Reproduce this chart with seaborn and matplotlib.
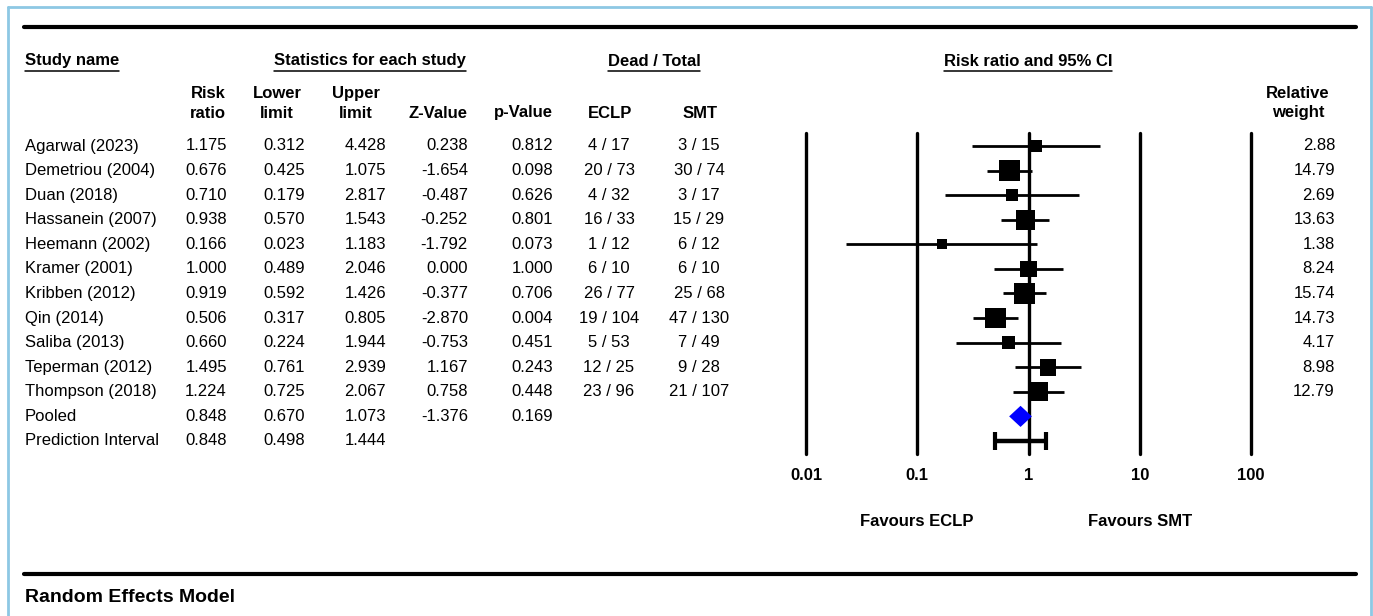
import numpy as np
import pandas as pd
import matplotlib
matplotlib.use("Agg")
import matplotlib.pyplot as plt
import seaborn as sns
from matplotlib.lines import Line2D
from matplotlib.ticker import NullLocator
from matplotlib.transforms import blended_transform_factory

# study level data
studies = ["Agarwal (2023)", "Demetriou (2004)", "Duan (2018)", "Hassanein (2007)",
           "Heemann (2002)", "Kramer (2001)", "Kribben (2012)", "Qin (2014)",
           "Saliba (2013)", "Teperman (2012)", "Thompson (2018)"]
rr = [1.175, 0.676, 0.710, 0.938, 0.166, 1.000, 0.919, 0.506, 0.660, 1.495, 1.224]
lower = [0.312, 0.425, 0.179, 0.570, 0.023, 0.489, 0.592, 0.317, 0.224, 0.761, 0.725]
upper = [4.428, 1.075, 2.817, 1.543, 1.183, 2.046, 1.426, 0.805, 1.944, 2.939, 2.067]
zval = [0.238, -1.654, -0.487, -0.252, -1.792, 0.000, -0.377, -2.870, -0.753, 1.167, 0.758]
pval = [0.812, 0.098, 0.626, 0.801, 0.073, 1.000, 0.706, 0.004, 0.451, 0.243, 0.448]
eclp = ["4 / 17", "20 / 73", "4 / 32", "16 / 33", "1 / 12", "6 / 10", "26 / 77",
        "19 / 104", "5 / 53", "12 / 25", "23 / 96"]
smt = ["3 / 15", "30 / 74", "3 / 17", "15 / 29", "6 / 12", "6 / 10", "25 / 68",
       "47 / 130", "7 / 49", "9 / 28", "21 / 107"]
weight = [2.88, 14.79, 2.69, 13.63, 1.38, 8.24, 15.74, 14.73, 4.17, 8.98, 12.79]

# pooled estimate and prediction interval
pooled = {"rr": 0.848, "lower": 0.670, "upper": 1.073, "z": -1.376, "p": 0.169}
pred = {"rr": 0.848, "lower": 0.498, "upper": 1.444}

decades = [0.01, 0.1, 1, 10, 100]
decade_labels = ["0.01", "0.1", "1", "10", "100"]

sns.set_theme(style="white")
plt.rcParams['font.family'] = ['Liberation Sans', 'DejaVu Sans']

W, H = 1373, 616
fig = plt.figure(figsize=(W / 100, H / 100), dpi=100)
fig.patch.set_facecolor("white")


def fx(px):
    return px / W


def fy(py):
    return 1 - py / H


row0, step = 146, 24.58
n = len(studies)
rows = np.arange(n)
pooled_row, pred_row = n, n + 1

ax = fig.add_axes([fx(806), fy(454), fx(1251) - fx(806), fy(133) - fy(454)])
ax.set_xscale("log")
ax.set_facecolor("none")

# decade reference lines
for d in decades:
    ax.axvline(d, color="black", lw=2.4, clip_on=False, zorder=1)

# study confidence intervals and weighted squares
ax.hlines(rows, lower, upper, color="black", lw=2.0, zorder=2)
df = pd.DataFrame({"rr": rr, "row": rows, "weight": weight})
sns.scatterplot(data=df, x="rr", y="row", size="weight", sizes=(52, 224),
                marker="s", color="black", linewidth=0, legend=False,
                ax=ax, zorder=3)

# pooled diamond
h = 0.43
ax.fill([pooled["lower"], pooled["rr"], pooled["upper"], pooled["rr"]],
        [pooled_row, pooled_row - h, pooled_row, pooled_row + h],
        color="#0000FF", lw=0, zorder=4)

# prediction interval
ax.errorbar([pred["rr"]], [pred_row],
            xerr=[[pred["rr"] - pred["lower"]], [pred["upper"] - pred["rr"]]],
            fmt="none", ecolor="black", elinewidth=3.2, capsize=6.5,
            capthick=3, zorder=4)

ax.set_xlim(0.01, 100)
ax.set_ylim((454 - row0) / step, (133 - row0) / step)
for s in ax.spines.values():
    s.set_visible(False)
ax.set_xlabel("")
ax.set_ylabel("")
ax.set_yticks([])
ax.set_xticks(decades)
ax.set_xticklabels(decade_labels, fontweight="bold", fontsize=12)
ax.xaxis.set_minor_locator(NullLocator())
ax.tick_params(axis="x", length=0, pad=10, colors="black")

fav_tr = blended_transform_factory(ax.transData, fig.transFigure)
ax.text(0.1, fy(522), "Favours ECLP", transform=fav_tr, ha="center", va="center",
        fontsize=12, fontweight="bold", color="black")
ax.text(10, fy(522), "Favours SMT", transform=fav_tr, ha="center", va="center",
        fontsize=12, fontweight="bold", color="black")

# table text, rows aligned with forest rows
tr = blended_transform_factory(fig.transFigure, ax.transData)
fs = 12


def cell(px, row, s, ha):
    fig.text(fx(px), row, s, transform=tr, ha=ha, va="center", fontsize=fs,
             color="black")


for i in range(n):
    cell(25, i, studies[i], "left")
    cell(227, i, f"{rr[i]:.3f}", "right")
    cell(305, i, f"{lower[i]:.3f}", "right")
    cell(386, i, f"{upper[i]:.3f}", "right")
    cell(468, i, f"{zval[i]:.3f}", "right")
    cell(553, i, f"{pval[i]:.3f}", "right")
    cell(609, i, eclp[i], "center")
    cell(699, i, smt[i], "center")
    cell(1335, i, f"{weight[i]:.2f}", "right")

cell(25, pooled_row, "Pooled", "left")
cell(227, pooled_row, f"{pooled['rr']:.3f}", "right")
cell(305, pooled_row, f"{pooled['lower']:.3f}", "right")
cell(386, pooled_row, f"{pooled['upper']:.3f}", "right")
cell(468, pooled_row, f"{pooled['z']:.3f}", "right")
cell(553, pooled_row, f"{pooled['p']:.3f}", "right")

cell(25, pred_row, "Prediction Interval", "left")
cell(227, pred_row, f"{pred['rr']:.3f}", "right")
cell(305, pred_row, f"{pred['lower']:.3f}", "right")
cell(386, pred_row, f"{pred['upper']:.3f}", "right")


def head(px, py, s, ha):
    return fig.text(fx(px), fy(py), s, ha=ha, va="center", fontsize=fs,
                    fontweight="bold", color="black")


# column headers
group_heads = [head(25, 61, "Study name", "left"),
               head(370, 61, "Statistics for each study", "center"),
               head(654, 61, "Dead / Total", "center"),
               head(1028, 61, "Risk ratio and 95% CI", "center")]

for px, top, bottom, ha in [(226, "Risk", "ratio", "right"), (277, "Lower", "limit", "center"),
                            (356, "Upper", "limit", "center"),
                            (1298, "Relative", "weight", "center")]:
    head(px, 93.5, top, ha)
    head(px, 113, bottom, ha)

for px, s, ha in [(468, "Z-Value", "right"), (553, "p-Value", "right"),
                  (610, "ECLP", "center"), (700, "SMT", "center")]:
    head(px, 113, s, ha)

fig.text(fx(25), fy(598), "Random Effects Model", ha="left", va="center",
         fontsize=14, fontweight="bold", color="black")

# underline the group headers
fig.canvas.draw()
renderer = fig.canvas.get_renderer()
for t in group_heads:
    bb = t.get_window_extent(renderer)
    fig.add_artist(Line2D([bb.x0 / W, bb.x1 / W], [fy(71), fy(71)],
                          color="black", lw=1.1))

# heavy rules
fig.add_artist(Line2D([fx(24), fx(1356)], [fy(27), fy(27)], color="black", lw=3))
fig.add_artist(Line2D([fx(24), fx(1356)], [fy(574), fy(574)], color="black", lw=3))

# light blue frame
frame = "#8DC8E4"
fig.add_artist(Line2D([fx(8), fx(8)], [fy(7), fy(630)], color=frame, lw=2))
fig.add_artist(Line2D([fx(8), fx(1371)], [fy(7), fy(7)], color=frame, lw=2))
fig.add_artist(Line2D([fx(1371), fx(1371)], [fy(7), fy(630)], color=frame, lw=2))

fig.savefig("out.png", dpi=100, facecolor="white")
